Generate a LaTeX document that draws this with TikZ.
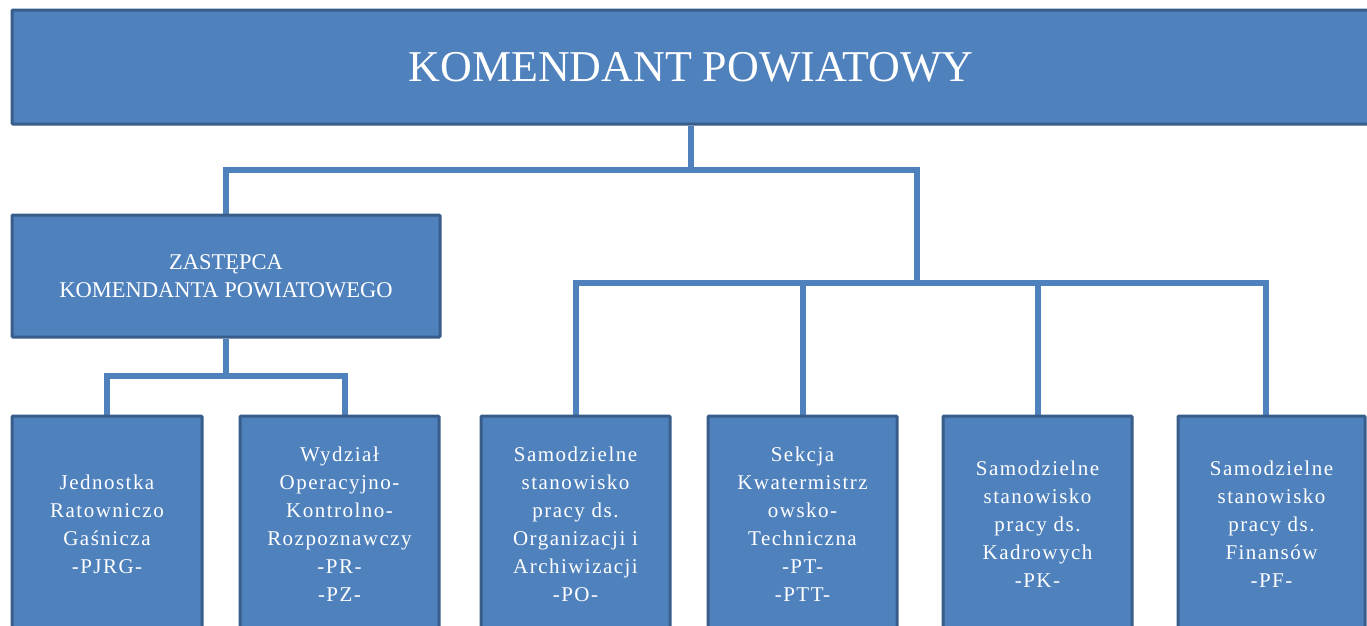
\documentclass[tikz,border=0pt]{standalone}
\usepackage{fontspec}
\setmainfont{Liberation Serif}
\newfontfamily\spacedfont[LetterSpace=7]{Liberation Serif}
\usetikzlibrary{backgrounds}
\definecolor{boxfill}{HTML}{4F81BD}
\definecolor{boxline}{HTML}{385D8A}
\begin{document}
\begin{tikzpicture}[x=1pt,y=-1pt,
  box/.style={draw=boxline, line width=3pt, fill=boxfill, rounded corners=1pt,
    text=white, align=center, inner sep=0pt},
  conn/.style={draw=boxfill, line width=6pt, line join=miter},
  low/.style={box, minimum width=#1, minimum height=216pt,
    font=\spacedfont\fontsize{21}{28}\selectfont}]
\useasboundingbox (0,0) rectangle (1367,625);
\clip (0,0) rectangle (1367,625);

\node[box, minimum width=1358pt, minimum height=114pt,
  font=\fontsize{44}{50}\selectfont] (kp) at (691,67) {KOMENDANT POWIATOWY};
\node[box, minimum width=428pt, minimum height=122pt,
  font=\fontsize{22.5}{28}\selectfont] (zk) at (226,276)
  {ZASTĘPCA\\KOMENDANTA POWIATOWEGO};

\node[low=190pt] (b1) at (107,524) {Jednostka\\Ratowniczo\\Gaśnicza\\-PJRG-};
\node[low=199pt] (b2) at (339.5,524) {Wydział\\Operacyjno-\\Kontrolno-\\Rozpoznawczy\\-PR-\\-PZ-};
\node[low=189pt] (b3) at (575.5,524) {Samodzielne\\stanowisko\\pracy ds.\\Organizacji i\\Archiwizacji\\-PO-};
\node[low=189pt] (b4) at (802.5,524) {Sekcja\\Kwatermistrz\\owsko-\\Techniczna\\-PT-\\-PTT-};
\node[low=189pt] (b5) at (1037.5,524) {Samodzielne\\stanowisko\\pracy ds.\\Kadrowych\\-PK-};
\node[low=187pt] (b6) at (1271.5,524) {Samodzielne\\stanowisko\\pracy ds.\\Finansów\\-PF-};

\coordinate (hub) at (917,283);

\begin{scope}[on background layer]
\fill[white] (0,0) rectangle (1367,625);
\draw[conn] (kp.south) -- ++(0,44) coordinate (tj);
\draw[conn] (zk.north) |- (tj) -| (hub);
\draw[conn] (b3.north) |- (hub) -| ([xshift=-6pt]b6.north);
\draw[conn] (b4.north) -- (b4.north |- hub);
\draw[conn] (b5.north) -- (b5.north |- hub);
\draw[conn] (zk.south) -- ++(0,37) coordinate (dj);
\draw[conn] (b1.north) |- (dj) -| ([xshift=5pt]b2.north);
\end{scope}
\end{tikzpicture}
\end{document}
